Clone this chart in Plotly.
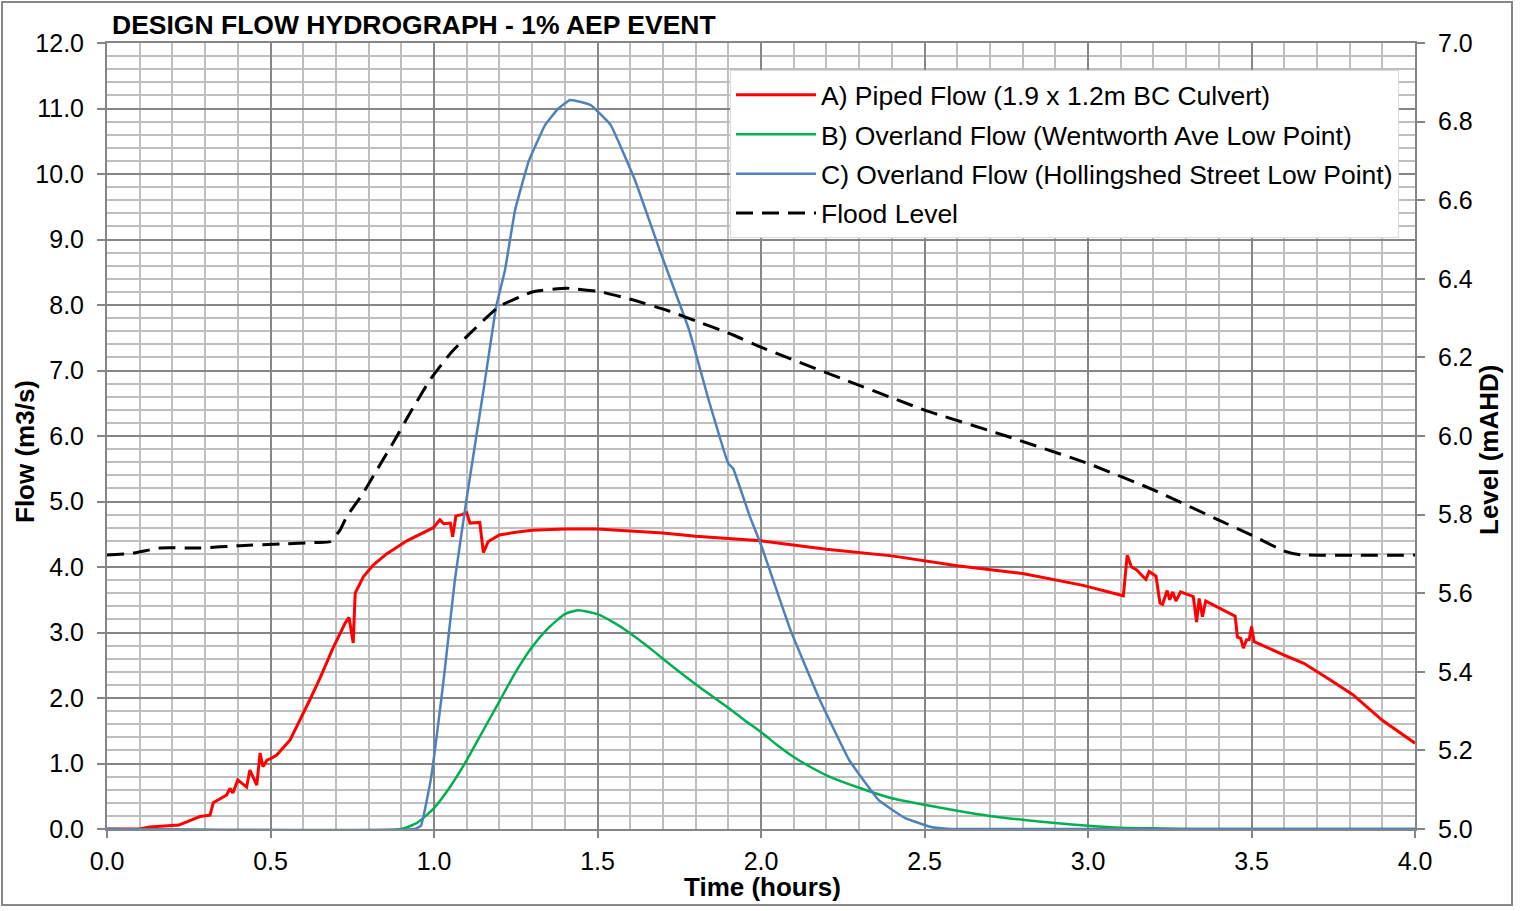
import plotly.graph_objects as go

# ---------------- data ----------------
piped_t = [0, 0.10, 0.13, 0.22, 0.284, 0.315, 0.325, 0.366, 0.376, 0.385, 0.40, 0.427, 0.437, 0.458,
           0.468, 0.477, 0.489, 0.503, 0.519, 0.56, 0.62, 0.651, 0.69, 0.728, 0.74, 0.753, 0.759, 0.784,
           0.814, 0.855, 0.917, 0.998, 1.018, 1.03, 1.05, 1.057, 1.067, 1.085, 1.10, 1.11, 1.14, 1.151,
           1.166, 1.20, 1.25, 1.30, 1.40, 1.50, 1.60, 1.70, 1.80, 1.90, 2.00, 2.20, 2.40, 2.60, 2.80,
           2.985, 3.108, 3.12, 3.133, 3.148, 3.177, 3.187, 3.208, 3.22, 3.228, 3.242, 3.25, 3.259, 3.269,
           3.283, 3.322, 3.332, 3.34, 3.35, 3.36, 3.45, 3.457, 3.467, 3.475, 3.485, 3.493, 3.50, 3.508,
           3.598, 3.66, 3.74, 3.81, 3.90, 4.00]
piped_q = [0, 0, 0.03, 0.06, 0.19, 0.21, 0.40, 0.52, 0.62, 0.55, 0.75, 0.64, 0.90, 0.67,
           1.16, 0.95, 1.05, 1.08, 1.13, 1.36, 1.97, 2.30, 2.75, 3.14, 3.23, 2.84, 3.60, 3.85,
           4.03, 4.20, 4.40, 4.60, 4.72, 4.66, 4.67, 4.46, 4.78, 4.80, 4.83, 4.67, 4.68, 4.22,
           4.39, 4.49, 4.53, 4.56, 4.58, 4.58, 4.55, 4.52, 4.47, 4.43, 4.40, 4.27, 4.17, 4.02, 3.90,
           3.72, 3.56, 4.18, 4.00, 3.96, 3.81, 3.93, 3.86, 3.45, 3.43, 3.64, 3.50, 3.62, 3.48,
           3.62, 3.55, 3.16, 3.52, 3.24, 3.48, 3.25, 2.93, 2.91, 2.76, 2.89, 2.89, 3.09, 2.86,
           2.66, 2.53, 2.28, 2.05, 1.66, 1.31]

wentworth_t = [0, 0.90, 0.95, 1.00, 1.05, 1.10, 1.15, 1.20, 1.25, 1.30, 1.35, 1.40, 1.44, 1.50, 1.55,
               1.60, 1.65, 1.70, 1.75, 1.80, 1.85, 1.90, 1.95, 2.00, 2.05, 2.10, 2.15, 2.20, 2.30,
               2.40, 2.50, 2.60, 2.70, 2.80, 2.90, 3.00, 3.10, 3.20, 3.30, 4.00]
wentworth_q = [0, 0, 0.10, 0.32, 0.65, 1.05, 1.50, 1.95, 2.40, 2.78, 3.07, 3.28, 3.34, 3.28, 3.15,
               2.99, 2.80, 2.60, 2.40, 2.21, 2.03, 1.85, 1.66, 1.48, 1.28, 1.10, 0.95, 0.82, 0.63,
               0.47, 0.37, 0.28, 0.20, 0.14, 0.09, 0.05, 0.02, 0.01, 0, 0]

holling_t = [0, 0.94, 0.96, 0.99, 1.03, 1.064, 1.10, 1.156, 1.19, 1.217, 1.248, 1.29, 1.34, 1.38,
             1.416, 1.45, 1.48, 1.54, 1.615, 1.69, 1.78, 1.84, 1.90, 1.915, 1.966, 2.00, 2.09,
             2.18, 2.27, 2.36, 2.44, 2.52, 2.58, 4.00]
holling_q = [0, 0, 0.05, 0.75, 2.30, 3.81, 5.05, 6.85, 7.97, 8.53, 9.45, 10.20, 10.75, 11.00,
             11.13, 11.10, 11.05, 10.75, 9.90, 8.84, 7.62, 6.55, 5.58, 5.50, 4.77, 4.34, 3.04,
             1.97, 1.05, 0.44, 0.17, 0.03, 0, 0]

level_t = [0, 0.08, 0.162, 0.284, 0.407, 0.529, 0.641, 0.682, 0.713, 0.733, 0.78, 0.825, 0.88, 0.927,
           0.988, 1.05, 1.10, 1.20, 1.303, 1.405, 1.508, 1.61, 1.712, 1.81, 1.915, 2.00, 2.25, 2.50,
           2.75, 3.00, 3.20, 3.40, 3.50, 3.60, 3.65, 4.00]
level_h = [5.697, 5.702, 5.715, 5.715, 5.721, 5.725, 5.729, 5.731, 5.761, 5.795, 5.85, 5.913, 5.99, 6.059,
           6.143, 6.21, 6.253, 6.33, 6.367, 6.376, 6.367, 6.346, 6.32, 6.29, 6.257, 6.226, 6.145, 6.066,
           6.00, 5.93, 5.863, 5.786, 5.748, 5.707, 5.698, 5.697]

names = ["A) Piped Flow (1.9 x 1.2m BC Culvert)",
         "B) Overland Flow (Wentworth Ave Low Point)",
         "C) Overland Flow (Hollingshed Street Low Point)",
         "Flood Level"]

x_ticks = [0.0, 0.5, 1.0, 1.5, 2.0, 2.5, 3.0, 3.5, 4.0]

# ---------------- figure ----------------
FONT = "Liberation Sans, Arial, sans-serif"
fig = go.Figure()
fig.add_trace(go.Scatter(x=piped_t, y=piped_q, name=names[0], mode="lines", legendgroup="a",
                         line=dict(color="#FF0000", width=3)))
fig.add_trace(go.Scatter(x=wentworth_t, y=wentworth_q, name=names[1], mode="lines", legendgroup="b",
                         line=dict(color="#00B050", width=2.5, shape="spline", smoothing=0.5)))
fig.add_trace(go.Scatter(x=holling_t, y=holling_q, name=names[2], mode="lines", legendgroup="c",
                         line=dict(color="#4F81BD", width=2.5, shape="spline", smoothing=0.3)))
fig.add_trace(go.Scatter(x=level_t, y=level_h, name=names[3], mode="lines", legendgroup="d",
                         yaxis="y2", line=dict(color="#000000", width=3, dash="17px,9px",
                                               shape="spline", smoothing=0.4)))

W, H = 1525, 911
OFF = 0  # body margin removed by post_script
PL, PR, PT, PB = 107, 1415, 43, 829   # plot area in reference pixels
L = PL - OFF
T = PT - OFF
R = W - L - (PR - PL)
B = H - T - (PB - PT)

def px(xp):
    return (xp - PL) / (PR - PL)

def py(yp):
    return (PB - yp) / (PB - PT)

fig.update_layout(
    width=W, height=H,
    margin=dict(l=L, r=R, t=T, b=B),
    paper_bgcolor="white", plot_bgcolor="white",
    font=dict(family=FONT, size=25, color="black"),
    showlegend=True,
    legend=dict(x=px(730), y=py(70), xanchor="left", yanchor="top",
                bgcolor="white", bordercolor="#D9D9D9", borderwidth=1,
                font=dict(size=26.5), tracegroupgap=2, itemwidth=80),
    xaxis=dict(range=[0, 4], tickvals=x_ticks, tickformat=".1f",
               ticks="outside", ticklen=7, tickwidth=2, tickcolor="#868686",
               showline=True, linecolor="#868686", linewidth=2, mirror=True,
               showgrid=True, gridcolor="#868686", gridwidth=2, zeroline=False,
               ticklabelstandoff=2,
               minor=dict(dtick=0.1, showgrid=True, gridcolor="#BFBFBF", gridwidth=2)),
    yaxis=dict(range=[0, 12], dtick=1, tickformat=".1f",
               ticks="outside", ticklen=8, tickwidth=2, tickcolor="#868686",
               showline=True, linecolor="#868686", linewidth=2,
               showgrid=True, gridcolor="#868686", gridwidth=2, zeroline=False,
               ticklabelstandoff=8,
               minor=dict(dtick=0.2, showgrid=True, gridcolor="#BFBFBF", gridwidth=2)),
    yaxis2=dict(range=[5, 7], dtick=0.2, tickformat=".1f", overlaying="y", side="right",
                ticks="outside", ticklen=8, tickwidth=2, tickcolor="#868686",
                showline=True, linecolor="#868686", linewidth=2,
                ticklabelstandoff=8,
                showgrid=False, zeroline=False),
    annotations=[
        dict(text="<b>DESIGN FLOW HYDROGRAPH - 1% AEP EVENT</b>", x=px(110), y=py(25),
             xref="paper", yref="paper", xanchor="left", yanchor="middle", showarrow=False,
             font=dict(size=26.5)),
        dict(text="<b>Time (hours)</b>", x=px(762), y=py(887), xref="paper", yref="paper",
             xanchor="center", yanchor="middle", showarrow=False, font=dict(size=26)),
        dict(text="<b>Flow (m3/s)</b>", x=px(25), y=py(452), xref="paper", yref="paper",
             xanchor="center", yanchor="middle", showarrow=False, textangle=-90,
             font=dict(size=26)),
        dict(text="<b>Level (mAHD)</b>", x=px(1489), y=py(450), xref="paper", yref="paper",
             xanchor="center", yanchor="middle", showarrow=False, textangle=-90,
             font=dict(size=26)),
    ],
    shapes=[dict(type="rect", xref="paper", yref="paper",
                 x0=px(2), x1=px(1512), y0=py(905), y1=py(2),
                 line=dict(color="#878787", width=2), layer="below")],
)

fig.write_html("out.html", config={"displayModeBar": False},
               post_script="document.body.style.margin='0px';")
